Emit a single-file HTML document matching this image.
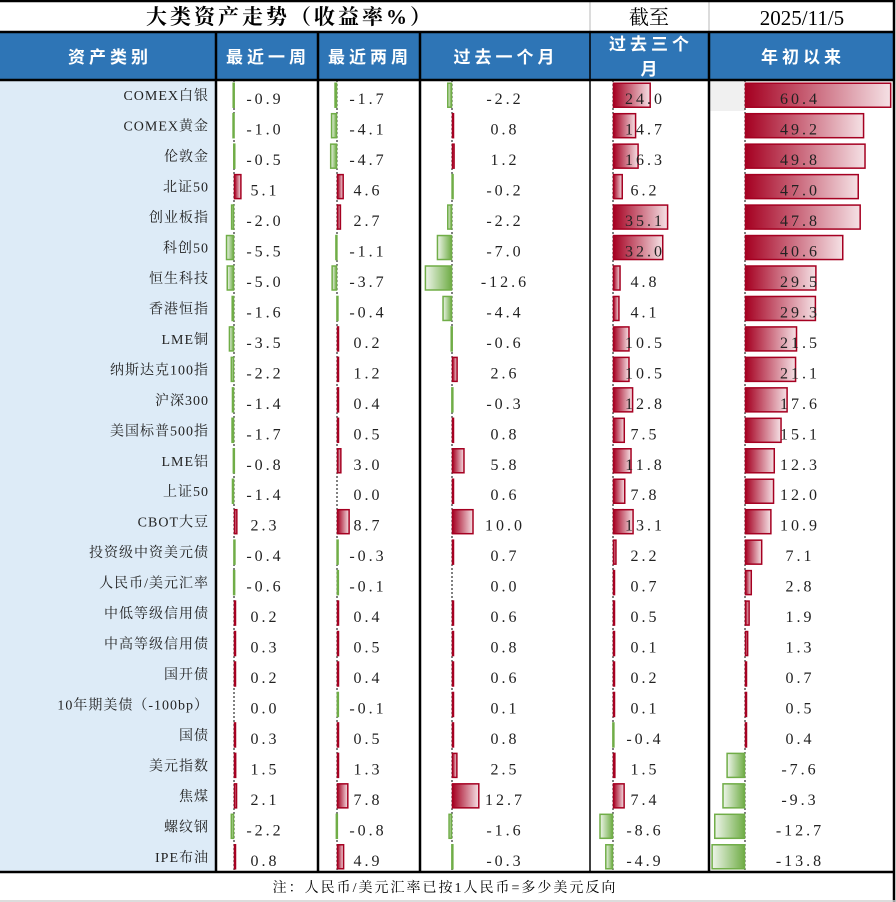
<!DOCTYPE html>
<html><head><meta charset="utf-8">
<style>
html,body{margin:0;padding:0;background:#fff;}
svg{display:block;}
</style></head>
<body>
<svg id="chart" width="896" height="902" xmlns="http://www.w3.org/2000/svg">
<defs>
<linearGradient id="gRed" x1="0" x2="1" y1="0" y2="0"><stop offset="0" stop-color="#a50021"/><stop offset="1" stop-color="#f5e1e5"/></linearGradient>
<linearGradient id="gGreen" x1="1" x2="0" y1="0" y2="0"><stop offset="0" stop-color="#70ad47"/><stop offset="1" stop-color="#eef5ea"/></linearGradient>
</defs>
<rect x="0" y="0" width="896" height="902" fill="#fff"/>
<text x="290" y="24" text-anchor="middle" font-family="'Liberation Serif','Noto Serif CJK SC',serif" font-size="21" font-weight="bold" letter-spacing="3" fill="#000">大类资产走势（收益率%）</text>
<text x="649" y="24" text-anchor="middle" font-family="'Liberation Serif','Noto Serif CJK SC',serif" font-size="20" fill="#000">截至</text>
<text x="802" y="25" text-anchor="middle" font-family="'Liberation Serif','Noto Serif CJK SC',serif" font-size="21" fill="#000">2025/11/5</text>
<line x1="590" y1="0" x2="590" y2="32" stroke="#d0d0d0" stroke-width="1.5"/>
<line x1="709" y1="0" x2="709" y2="32" stroke="#d0d0d0" stroke-width="1.5"/>
<rect x="0" y="32" width="895" height="48" fill="#2e75b6"/>
<rect x="0" y="80" width="216" height="792" fill="#ddebf7"/>
<rect x="709" y="81" width="36" height="30" fill="#f0f0f0"/>
<g id="body"></g>
<g font-family="'Liberation Sans','Noto Sans CJK SC',sans-serif" font-size="17" font-weight="bold" fill="#fff" text-anchor="middle" letter-spacing="4">
<text x="110" y="63">资产类别</text>
<text x="268" y="63">最近一周</text>
<text x="370" y="63">最近两周</text>
<text x="506" y="63">过去一个月</text>
<text x="651" y="50">过去三个</text>
<text x="651" y="75">月</text>
<text x="803" y="63">年初以来</text>
</g>
<g stroke="#000" stroke-width="2.5">
<line x1="0" y1="32" x2="895" y2="32"/>
<line x1="0" y1="80" x2="895" y2="80"/>
<line x1="0" y1="872" x2="895" y2="872"/>
<line x1="216" y1="32" x2="216" y2="872"/>
<line x1="318" y1="32" x2="318" y2="872"/>
<line x1="420" y1="32" x2="420" y2="872"/>
<line x1="709" y1="32" x2="709" y2="872"/>
<line x1="894" y1="0" x2="894" y2="902"/>
<line x1="0" y1="1" x2="895" y2="1"/>
</g>
<line x1="590" y1="32" x2="590" y2="872" stroke="#000" stroke-width="1.5"/>
<line x1="0" y1="901" x2="895" y2="901" stroke="#d0d0d0" stroke-width="1.5"/>
<text x="445" y="892" text-anchor="middle" font-family="'Liberation Serif','Noto Serif CJK SC',serif" font-size="14" letter-spacing="2" fill="#000">注：人民币/美元汇率已按1人民币=多少美元反向</text>
</svg>
<script>
const names=["COMEX白银","COMEX黄金","伦敦金","北证50","创业板指","科创50","恒生科技","香港恒指","LME铜","纳斯达克100指","沪深300","美国标普500指","LME铝","上证50","CBOT大豆","投资级中资美元债","人民币/美元汇率","中低等级信用债","中高等级信用债","国开债","10年期美债（-100bp）","国债","美元指数","焦煤","螺纹钢","IPE布油"];
const week1=[-0.9,-1.0,-0.5,5.1,-2.0,-5.5,-5.0,-1.6,-3.5,-2.2,-1.4,-1.7,-0.8,-1.4,2.3,-0.4,-0.6,0.2,0.3,0.2,0.0,0.3,1.5,2.1,-2.2,0.8];
const week2=[-1.7,-4.1,-4.7,4.6,2.7,-1.1,-3.7,-0.4,0.2,1.2,0.4,0.5,3.0,0.0,8.7,-0.3,-0.1,0.4,0.5,0.4,-0.1,0.5,1.3,7.8,-0.8,4.9];
const month1=[-2.2,0.8,1.2,-0.2,-2.2,-7.0,-12.6,-4.4,-0.6,2.6,-0.3,0.8,5.8,0.6,10.0,0.7,0.0,0.6,0.8,0.6,0.1,0.8,2.5,12.7,-1.6,-0.3];
const month3=[24.0,14.7,16.3,6.2,35.1,32.0,4.8,4.1,10.5,10.5,12.8,7.5,11.8,7.8,13.1,2.2,0.7,0.5,0.1,0.2,0.1,-0.4,1.5,7.4,-8.6,-4.9];
const ytd=[60.4,49.2,49.8,47.0,47.8,40.6,29.5,29.3,21.5,21.1,17.6,15.1,12.3,12.0,10.9,7.1,2.8,1.9,1.3,0.7,0.5,0.4,-7.6,-9.3,-12.7,-13.8];

const NS="http://www.w3.org/2000/svg";
const body=document.getElementById('body');
const top0=80, rowH=792/names.length;
const cols=[
 {data:week1,axis:234,scale:1.45,tx:265,key:'1w'},
 {data:week2,axis:337,scale:1.45,tx:368,key:'2w'},
 {data:month1,axis:452,scale:2.15,tx:505,key:'1m'},
 {data:month3,axis:613,scale:1.57,tx:645,key:'3m'},
 {data:ytd,axis:745,scale:2.42,tx:800,key:'ytd'}
];
function mk(tag,attrs){const e=document.createElementNS(NS,tag);for(const k in attrs)e.setAttribute(k,attrs[k]);return e;}
cols.forEach(c=>{
 const ax=mk('line',{x1:c.axis,y1:top0,x2:c.axis,y2:872,stroke:'#000','stroke-width':1,'stroke-dasharray':'2,2'});
 
 
 body.appendChild(ax);
});
names.forEach((n,i)=>{
 const cy=top0+rowH*(i+0.5);
 const t=mk('text',{x:209,y:cy+5,'text-anchor':'end','font-family':"'Liberation Serif','Noto Serif CJK SC',serif",'font-size':14,fill:'#222','letter-spacing':1});
 t.textContent=n;
 
 
 body.appendChild(t);
 cols.forEach(c=>{
  const v=c.data[i];
  const w=Math.abs(v)*c.scale;
  if(v!==0){
   const x=v>0?c.axis:c.axis-w;
   const r=mk('rect',{x:x+0.5,y:cy-12,width:Math.max(w-1,1),height:24,fill:v>0?'url(#gRed)':'url(#gGreen)',stroke:v>0?'#a50021':'#70ad47','stroke-width':1.5});
   
   
   body.appendChild(r);
  }
  const vt=mk('text',{x:c.tx,y:cy+9,'text-anchor':'middle','font-family':"'Liberation Serif',serif",'font-size':16,fill:'#222','letter-spacing':3});
  vt.textContent=v.toFixed(1);
  
  
  body.appendChild(vt);
 });
});
</script>
</body></html>
